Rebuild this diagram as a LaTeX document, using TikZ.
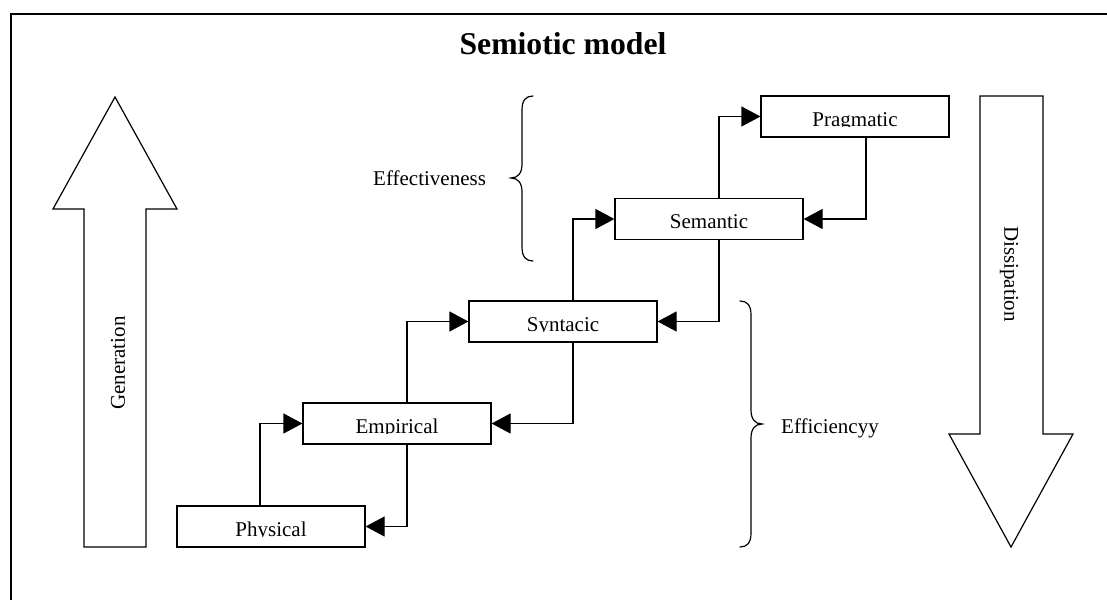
\documentclass[tikz,border=0pt]{standalone}
\usepackage{fontspec}
\setmainfont{Liberation Serif}
\usetikzlibrary{arrows.meta}
\newcommand\txtsz{\fontsize{21}{21}\selectfont}
\tikzset{
  x=1pt, y=-1pt,
  ln/.style={line width=1.2pt},
  % stage box: the label sits on a baseline near the bottom edge and
  % everything below that baseline is cut off
  stage/.style={draw, ln, minimum width=188pt, minimum height=41pt, inner sep=0pt,
    path picture={
      \clip ([yshift=10.5pt]path picture bounding box.south west)
        rectangle (path picture bounding box.north east);
      \node[anchor=base, inner sep=0pt, font=\txtsz]
        at ([yshift=11pt]path picture bounding box.south) {#1};
    }},
  conn/.style={ln, -{Triangle[length=19pt,width=20pt]}},
  bigarrow/.style={ln, line join=miter},
  brace/.style={ln, line cap=round},
  lbl/.style={inner sep=0pt, font=\txtsz},
}
\begin{document}
\begin{tikzpicture}
\clip (0,0) rectangle (1107,599);
\useasboundingbox (0,0) rectangle (1107,599);

% outer frame
\draw[line width=1.3pt] (11,640) -- (11,14) -- (1140,14);

% title
\node[anchor=base, inner sep=0pt, font=\bfseries\fontsize{31.7}{32}\selectfont] (title) at (563,55) {Semiotic model};

% stages
\node[stage=Physical]  (phys) at (271,526.5) {};
\node[stage=Empirical] (emp)  at (397,423.5) {};
\node[stage=Syntacic]  (syn)  at (563,321.5) {};
\node[stage=Semantic]  (sem)  at (709,219)   {};
\node[stage=Pragmatic] (prag) at (855,116.5) {};

% upward links
\draw[conn] ([xshift=-11pt]phys.north) |- (emp.west);
\draw[conn] ([xshift=10pt]emp.north)   |- (syn.west);
\draw[conn] ([xshift=10pt]syn.north)   |- (sem.west);
\draw[conn] ([xshift=10pt]sem.north)   |- (prag.west);
% downward links
\draw[conn] ([xshift=11pt]prag.south)  |- (sem.east);
\draw[conn] ([xshift=10pt]sem.south)   |- (syn.east);
\draw[conn] ([xshift=10pt]syn.south)   |- (emp.east);
\draw[conn] ([xshift=10pt]emp.south)   |- (phys.east);

% generation arrow
\draw[bigarrow] (84,547) -- (84,209) -- (53,209) -- (115,97) -- (177,209)
  -- (146,209) -- (146,547) -- cycle;
\node[lbl, rotate=90] (gen) at (118,363) {Generation};

% dissipation arrow
\draw[bigarrow] (980,96) -- (1043,96) -- (1043,434) -- (1073,434) -- (1011,547)
  -- (949,434) -- (980,434) -- cycle;
\node[lbl, rotate=-90] (dis) at (1009,274) {Dissipation};

% effectiveness brace
\draw[brace] (533,96) .. controls (526,96) and (522,100) .. (522,110) -- (522,164)
  .. controls (522,173) and (518,178) .. (511,178)
  .. controls (518,178) and (522,183) .. (522,192) -- (522,247)
  .. controls (522,257) and (526,261) .. (533,261);
\node[lbl, anchor=base west] (effv) at (373,185) {Effectiveness};

% efficiency brace
\draw[brace] (740,301) .. controls (747,301) and (751,305) .. (751,315) -- (751,410)
  .. controls (751,419) and (755,424) .. (762,424)
  .. controls (755,424) and (751,429) .. (751,438) -- (751,533)
  .. controls (751,543) and (747,547) .. (740,547);
\node[lbl, anchor=base west] (effc) at (781,433) {Efficiencyy};
\end{tikzpicture}
\end{document}
